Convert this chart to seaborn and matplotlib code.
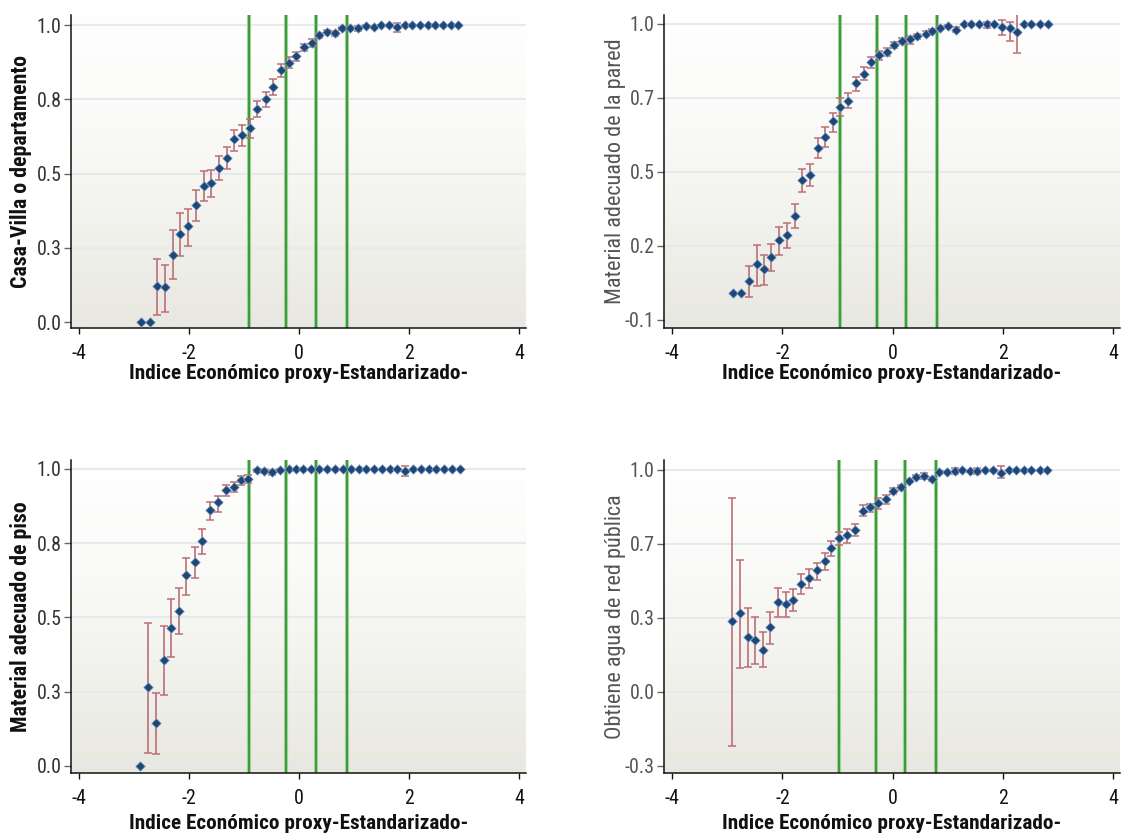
import numpy as np
import pandas as pd
import matplotlib
matplotlib.use("Agg")
import matplotlib.pyplot as plt
import seaborn as sns
from matplotlib import font_manager
from matplotlib.colors import LinearSegmentedColormap

# ---------------- data ----------------
x_label = "Indice Económico proxy-Estandarizado-"

# Panel 1: Casa-Villa o departamento
x1 = [-2.87, -2.72, -2.58, -2.44, -2.30, -2.16, -2.02, -1.88, -1.73, -1.60, -1.45, -1.31,
      -1.18, -1.04, -0.90, -0.76, -0.61, -0.47, -0.33, -0.19, -0.05, 0.09, 0.23, 0.37,
      0.51, 0.65, 0.79, 0.93, 1.07, 1.22, 1.36, 1.50, 1.64, 1.78, 1.92, 2.06, 2.20, 2.34,
      2.48, 2.62, 2.76, 2.90]
y1 = [0.0, 0.0, 0.121, 0.118, 0.227, 0.296, 0.322, 0.394, 0.458, 0.467, 0.520, 0.554,
      0.615, 0.629, 0.653, 0.717, 0.751, 0.793, 0.849, 0.874, 0.896, 0.926, 0.940, 0.966,
      0.978, 0.972, 0.989, 0.991, 0.989, 0.997, 0.994, 1.0, 1.0, 0.992, 1.0, 1.0, 1.0, 1.0,
      1.0, 1.0, 1.0, 1.0]
lo1 = [0.0, 0.0, 0.025, 0.034, 0.146, 0.221, 0.255, 0.340, 0.408, 0.421, 0.480, 0.515,
       0.575, 0.592, 0.620, 0.689, 0.724, 0.765, 0.826, 0.854, 0.879, 0.913, 0.927, 0.956,
       0.972, 0.963, 0.984, 0.987, 0.980, 0.994, 0.990, 1.0, 1.0, 0.976, 1.0, 1.0, 1.0, 1.0,
       1.0, 1.0, 1.0, 1.0]
hi1 = [0.0, 0.0, 0.213, 0.191, 0.309, 0.367, 0.381, 0.446, 0.507, 0.511, 0.560, 0.588,
       0.648, 0.663, 0.684, 0.745, 0.776, 0.817, 0.869, 0.891, 0.910, 0.938, 0.952, 0.974,
       0.984, 0.981, 0.994, 0.995, 0.998, 1.0, 0.998, 1.0, 1.0, 1.007, 1.0, 1.0, 1.0, 1.0,
       1.0, 1.0, 1.0, 1.0]
cut1 = [-0.905, -0.23, 0.30, 0.87]

# Panel 2: Material adecuado de la pared
x2 = [-2.90, -2.75, -2.61, -2.47, -2.34, -2.20, -2.06, -1.91, -1.78, -1.65, -1.50, -1.36,
      -1.22, -1.09, -0.96, -0.81, -0.66, -0.52, -0.39, -0.25, -0.10, 0.03, 0.17, 0.31,
      0.45, 0.60, 0.72, 0.86, 1.01, 1.15, 1.29, 1.43, 1.57, 1.71, 1.85, 1.98, 2.13, 2.26,
      2.38, 2.52, 2.67, 2.82]
y2 = [0.0, 0.0, 0.043, 0.107, 0.091, 0.133, 0.197, 0.217, 0.287, 0.419, 0.440, 0.539,
      0.579, 0.638, 0.693, 0.715, 0.780, 0.814, 0.858, 0.884, 0.895, 0.922, 0.936, 0.942,
      0.954, 0.964, 0.973, 0.985, 0.991, 0.979, 0.999, 0.999, 0.999, 0.998, 1.0, 0.990,
      0.985, 0.969, 1.0, 1.0, 1.0, 1.0]
lo2 = [0.0, 0.0, -0.015, 0.025, 0.030, 0.080, 0.143, 0.168, 0.241, 0.374, 0.396, 0.502,
       0.543, 0.600, 0.659, 0.687, 0.752, 0.791, 0.835, 0.865, 0.880, 0.910, 0.925, 0.927,
       0.945, 0.956, 0.966, 0.979, 0.985, 0.969, 0.995, 0.995, 0.995, 0.986, 1.0, 0.957,
       0.938, 0.891, 1.0, 1.0, 1.0, 1.0]
hi2 = [0.0, 0.0, 0.099, 0.179, 0.143, 0.182, 0.247, 0.259, 0.332, 0.460, 0.479, 0.576,
       0.615, 0.669, 0.723, 0.744, 0.803, 0.838, 0.876, 0.901, 0.910, 0.934, 0.947, 0.954,
       0.963, 0.972, 0.980, 0.991, 0.997, 0.988, 1.0, 1.0, 1.0, 1.006, 1.0, 1.016, 1.006,
       1.043, 1.0, 1.0, 1.0, 1.0]
cut2 = [-0.96, -0.28, 0.24, 0.81]

# Panel 3: Material adecuado de piso
x3 = [-2.90, -2.75, -2.61, -2.46, -2.33, -2.19, -2.05, -1.90, -1.76, -1.62, -1.47, -1.33,
      -1.19, -1.06, -0.92, -0.77, -0.63, -0.49, -0.35, -0.19, -0.05, 0.07, 0.22, 0.36,
      0.51, 0.65, 0.80, 0.94, 1.09, 1.22, 1.37, 1.51, 1.65, 1.79, 1.93, 2.08, 2.22, 2.36,
      2.50, 2.64, 2.78, 2.93]
y3 = [0.0, 0.266, 0.146, 0.358, 0.465, 0.521, 0.643, 0.688, 0.756, 0.860, 0.887, 0.928,
      0.939, 0.963, 0.965, 0.996, 0.993, 0.988, 0.998, 1.0, 1.0, 1.0, 1.0, 1.0, 1.0, 1.0,
      1.0, 1.0, 1.0, 1.0, 1.0, 1.0, 1.0, 1.0, 0.992, 1.0, 1.0, 1.0, 1.0, 1.0, 1.0, 1.0]
lo3 = [0.0, 0.045, 0.040, 0.239, 0.368, 0.444, 0.577, 0.634, 0.714, 0.828, 0.856, 0.909,
       0.921, 0.946, 0.951, 0.990, 0.987, 0.981, 0.995, 1.0, 1.0, 1.0, 1.0, 1.0, 1.0, 1.0,
       1.0, 1.0, 1.0, 1.0, 1.0, 1.0, 1.0, 1.0, 0.975, 1.0, 1.0, 1.0, 1.0, 1.0, 1.0, 1.0]
hi3 = [0.0, 0.480, 0.246, 0.471, 0.561, 0.599, 0.701, 0.736, 0.796, 0.887, 0.910, 0.945,
       0.955, 0.976, 0.980, 1.0, 0.999, 0.995, 1.0, 1.0, 1.0, 1.0, 1.0, 1.0, 1.0, 1.0,
       1.0, 1.0, 1.0, 1.0, 1.0, 1.0, 1.0, 1.0, 1.009, 1.0, 1.0, 1.0, 1.0, 1.0, 1.0, 1.0]
cut3 = [-0.915, -0.24, 0.30, 0.87]

# Panel 4: Obtiene agua de red pública
x4 = [-2.91, -2.77, -2.63, -2.49, -2.36, -2.22, -2.08, -1.94, -1.80, -1.66, -1.52, -1.37,
      -1.23, -1.11, -0.97, -0.82, -0.68, -0.54, -0.41, -0.26, -0.12, 0.00, 0.15, 0.29,
      0.43, 0.57, 0.71, 0.85, 0.99, 1.13, 1.27, 1.40, 1.54, 1.68, 1.82, 1.97, 2.11, 2.25,
      2.39, 2.52, 2.67, 2.80]
y4 = [0.335, 0.370, 0.266, 0.251, 0.210, 0.311, 0.419, 0.411, 0.428, 0.498, 0.523, 0.558,
      0.598, 0.658, 0.702, 0.712, 0.737, 0.820, 0.835, 0.855, 0.870, 0.905, 0.924, 0.950,
      0.968, 0.972, 0.959, 0.990, 0.990, 0.994, 0.999, 0.994, 0.994, 1.0, 1.0, 0.988,
      1.0, 1.0, 1.0, 1.0, 1.0, 1.0]
lo4 = [-0.211, 0.128, 0.133, 0.147, 0.133, 0.235, 0.352, 0.352, 0.379, 0.453, 0.481, 0.516,
       0.560, 0.623, 0.670, 0.680, 0.710, 0.798, 0.816, 0.830, 0.849, 0.892, 0.913, 0.941,
       0.961, 0.959, 0.951, 0.985, 0.985, 0.980, 0.995, 0.989, 0.980, 1.0, 1.0, 0.965,
       1.0, 1.0, 1.0, 1.0, 1.0, 1.0]
hi4 = [0.877, 0.605, 0.392, 0.352, 0.288, 0.377, 0.479, 0.465, 0.475, 0.541, 0.564, 0.591,
       0.634, 0.686, 0.728, 0.738, 0.763, 0.844, 0.852, 0.877, 0.889, 0.918, 0.935, 0.959,
       0.975, 0.984, 0.967, 0.995, 0.995, 1.006, 1.0, 0.999, 1.006, 1.0, 1.0, 1.016,
       1.0, 1.0, 1.0, 1.0, 1.0, 1.0]
cut4 = [-0.98, -0.30, 0.22, 0.79]

panels = [
    dict(x=x1, y=y1, lo=lo1, hi=hi1, cut=cut1, ylabel="Casa-Villa o departamento",
         yticks=[0.0, 0.25, 0.5, 0.75, 1.0], yticklabels=["0.0", "0.3", "0.5", "0.8", "1.0"],
         ylim=(-0.02, 1.034), left=True, xl_y=-0.144),
    dict(x=x2, y=y2, lo=lo2, hi=hi2, cut=cut2, ylabel="Material adecuado de la pared",
         yticks=[-0.1, 0.175, 0.45, 0.725, 1.0], yticklabels=["-0.1", "0.2", "0.5", "0.7", "1.0"],
         ylim=(-0.13, 1.033), left=False, xl_y=-0.144),
    dict(x=x3, y=y3, lo=lo3, hi=hi3, cut=cut3, ylabel="Material adecuado de piso",
         yticks=[0.0, 0.25, 0.5, 0.75, 1.0], yticklabels=["0.0", "0.3", "0.5", "0.8", "1.0"],
         ylim=(-0.024, 1.030), left=True, xl_y=-0.160),
    dict(x=x4, y=y4, lo=lo4, hi=hi4, cut=cut4, ylabel="Obtiene agua de red pública",
         yticks=[-0.3, 0.025, 0.35, 0.675, 1.0], yticklabels=["-0.3", "0.0", "0.3", "0.7", "1.0"],
         ylim=(-0.331, 1.043), left=False, xl_y=-0.160),
]
xticks = [-4, -2, 0, 2, 4]

# ---------------- style ----------------
sns.set_style("ticks")

# pick a narrow font if one is installed
fonts = font_manager.fontManager.ttflist
names = {f.name for f in fonts}
stretch = "normal"
if "Liberation Sans Narrow" in names:
    FAM = "Liberation Sans Narrow"
elif "Roboto Condensed" in names:
    FAM = "Roboto Condensed"
elif any(f.name == "DejaVu Sans" and str(f.stretch) in ("condensed", "semi-condensed") for f in fonts):
    FAM = "DejaVu Sans"
    stretch = "condensed"
elif "Roboto" in names:
    FAM = "Roboto"
else:
    FAM = "Liberation Sans"
plt.rcParams["font.family"] = [FAM, "DejaVu Sans"]
plt.rcParams["font.stretch"] = stretch

fig = plt.figure(figsize=(11.21, 8.38), dpi=100)
W, H = 1121, 838
renderer = fig.canvas.get_renderer()


def fit_size(text, weight, target_px, base=14.0):
    t = fig.text(0, 0, text, fontsize=base, fontweight=weight, fontstretch=stretch)
    w = t.get_window_extent(renderer=renderer).width
    t.remove()
    return base * target_px / w


xl_size = fit_size(x_label, "bold", 340)
yl_size = fit_size("Material adecuado de piso", "bold", 232)
yr_size = fit_size("Material adecuado de la pared", "normal", 268)
tk_size = min(fit_size("1.0", "normal", 25), 15)

boxes = [(71, 15, 526, 328), (664, 15, 1120, 328), (71, 460, 526, 773), (664, 460, 1120, 773)]

bg_cmap = LinearSegmentedColormap.from_list(
    "bg", [(0.0, "#e8e7e0"), (0.3, "#f1f1ec"), (0.65, "#fafaf8"), (1.0, "#ffffff")])
grad = np.linspace(0, 1, 256).reshape(-1, 1)

for p, (x0, y0, x1p, y1p) in zip(panels, boxes):
    ax = fig.add_axes([x0 / W, 1 - y1p / H, (x1p - x0) / W, (y1p - y0) / H])
    ax.imshow(grad, cmap=bg_cmap, origin="lower", aspect="auto",
              extent=[0, 1, 0, 1], transform=ax.transAxes, zorder=0)

    df = pd.DataFrame({"x": p["x"], "y": p["y"], "lo": p["lo"], "hi": p["hi"]})
    for c in p["cut"]:
        ax.axvline(c, color="#b9dcb2", lw=3.0, zorder=1.5)
        ax.axvline(c, color="#3d9c3a", lw=1.7, zorder=1.6)
    ax.errorbar(df["x"], df["y"], yerr=[df["y"] - df["lo"], df["hi"] - df["y"]],
                fmt="none", ecolor="#bb6b73", elinewidth=1.3, capsize=2.6, capthick=1.2,
                alpha=0.9, zorder=3)
    sns.scatterplot(data=df, x="x", y="y", ax=ax, marker="D", s=24, color="#1d4778",
                    edgecolor="#8fa9cc", linewidth=0.5, zorder=4, legend=False)

    ax.set_xlim(-4.15, 4.13)
    ax.set_ylim(*p["ylim"])
    ax.set_xticks(xticks)
    ax.set_xticklabels([str(t) for t in xticks])
    ax.set_yticks(p["yticks"])
    ax.set_yticklabels(p["yticklabels"])
    ax.set_axisbelow(True)
    ax.yaxis.grid(True, color="#e6eaee", lw=1.5)
    ax.xaxis.grid(False)

    for s in ["top", "right"]:
        ax.spines[s].set_visible(False)
    for s in ["left", "bottom"]:
        ax.spines[s].set_color("#111111")
        ax.spines[s].set_linewidth(1.1)

    tick_col = "#333333" if p["left"] else "#555555"
    ax.tick_params(axis="y", direction="out", length=4.7, width=1, color="#666666",
                   labelsize=tk_size, labelcolor=tick_col, pad=2)
    ax.tick_params(axis="x", direction="out", length=4.3, width=1, color="#111111",
                   labelsize=tk_size, labelcolor="#111111", pad=7)

    ax.set_xlabel(x_label, fontsize=xl_size, fontweight="bold", color="#111111", va="center")
    ax.xaxis.set_label_coords(0.5, p["xl_y"])
    if p["left"]:
        ax.set_ylabel(p["ylabel"], fontsize=yl_size, fontweight="bold", color="#111111", va="center")
        ax.yaxis.set_label_coords((21 - x0) / (x1p - x0), 0.5)
    else:
        ax.set_ylabel(p["ylabel"], fontsize=yr_size, fontweight="normal", color="#555555", va="center")
        ax.yaxis.set_label_coords((615 - x0) / (x1p - x0), 0.5)

fig.savefig("out.png", dpi=100, facecolor="white")
